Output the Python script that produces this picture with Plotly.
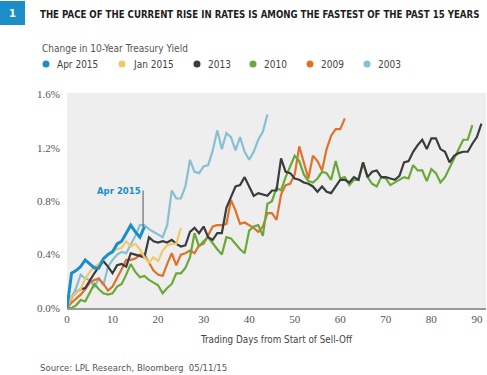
import plotly.graph_objects as go

# ---------------- data (change in 10-year Treasury yield, %) ----------------
apr2015 = [0.00, 0.26, 0.28, 0.31, 0.36, 0.33, 0.30, 0.30, 0.37, 0.40, 0.42, 0.48,
           0.50, 0.56, 0.62, 0.57, 0.53, 0.61]
jan2015 = [0.00, 0.08, 0.12, 0.14, 0.22, 0.27, 0.31, 0.33, 0.37, 0.40, 0.43, 0.44,
           0.45, 0.50, 0.46, 0.48, 0.44, 0.38, 0.34, 0.38, 0.35, 0.43, 0.47, 0.48,
           0.48, 0.60]
y2013 = [0.00, 0.08, 0.12, 0.14, 0.15, 0.21, 0.26, 0.31, 0.35, 0.31, 0.26, 0.32,
         0.33, 0.31, 0.41, 0.40, 0.39, 0.38, 0.53, 0.50, 0.49, 0.50, 0.49, 0.51,
         0.48, 0.46, 0.47, 0.57, 0.60, 0.56, 0.61, 0.53, 0.51, 0.56, 0.56, 0.75,
         0.83, 0.91, 0.92, 0.98, 0.91, 0.84, 0.86, 0.85, 0.84, 0.88, 0.88, 1.12,
         1.02, 1.01, 0.97, 0.96, 0.94, 0.93, 0.91, 0.87, 0.91, 0.87, 0.86, 0.91,
         0.96, 0.96, 0.94, 0.98, 0.96, 1.09, 0.98, 1.02, 1.03, 0.98, 0.98, 0.97,
         0.96, 0.99, 1.09, 1.10, 1.17, 1.22, 1.26, 1.19, 1.27, 1.27, 1.19, 1.17,
         1.09, 1.14, 1.16, 1.17, 1.17, 1.23, 1.28, 1.38]
y2010 = [0.00, 0.00, 0.02, 0.06, 0.05, 0.11, 0.18, 0.14, 0.11, 0.10, 0.11, 0.16,
         0.18, 0.25, 0.33, 0.27, 0.23, 0.24, 0.21, 0.19, 0.17, 0.11, 0.15, 0.18,
         0.26, 0.26, 0.30, 0.38, 0.56, 0.46, 0.50, 0.53, 0.48, 0.44, 0.40, 0.53,
         0.52, 0.48, 0.44, 0.41, 0.58, 0.61, 0.62, 0.54, 0.78, 0.80, 0.90, 0.88,
         0.98, 1.06, 1.14, 1.10, 1.00, 0.95, 0.94, 0.97, 1.02, 1.01, 0.96, 1.10,
         0.97, 0.98, 0.92, 0.96, 0.96, 1.09, 0.98, 0.93, 0.91, 0.98, 0.97, 0.92,
         0.94, 0.96, 0.98, 0.97, 1.07, 1.03, 1.03, 0.95, 1.04, 1.01, 0.94, 0.98,
         1.05, 1.12, 1.18, 1.26, 1.26, 1.37]
y2009 = [0.00, 0.04, 0.07, 0.10, 0.14, 0.19, 0.21, 0.22, 0.18, 0.13, 0.16, 0.22,
         0.29, 0.36, 0.36, 0.37, 0.40, 0.40, 0.34, 0.28, 0.25, 0.24, 0.33, 0.41,
         0.32, 0.40, 0.41, 0.43, 0.41, 0.47, 0.48, 0.55, 0.61, 0.62, 0.62, 0.63,
         0.81, 0.73, 0.63, 0.64, 0.62, 0.60, 0.57, 0.61, 0.71, 0.71, 0.66, 0.85,
         0.92, 0.93, 1.00, 1.21, 1.09, 0.97, 1.14, 1.10, 1.03, 1.19, 1.29, 1.34,
         1.34, 1.42]
y2003 = [0.00, 0.08, 0.15, 0.25, 0.22, 0.21, 0.16, 0.22, 0.17, 0.31, 0.36, 0.40,
         0.42, 0.41, 0.47, 0.54, 0.62, 0.62, 0.59, 0.57, 0.55, 0.53, 0.62, 0.88,
         0.82, 0.82, 0.91, 1.11, 1.02, 1.01, 1.06, 1.07, 1.18, 1.33, 1.19, 1.31,
         1.28, 1.18, 1.28, 1.17, 1.11, 1.17, 1.26, 1.32, 1.45]

series_names = ["Apr 2015", "Jan 2015", "2013", "2010", "2009", "2003"]
series_values = [apr2015, jan2015, y2013, y2010, y2009, y2003]
series_colors = ["#1b8ec7", "#f2c86c", "#3b3b3b", "#6aa83a", "#e0712b", "#86c0d2"]
series_widths = [3, 2.2, 2.2, 2.2, 2.2, 2.2]

x_ticks = [0, 10, 20, 30, 40, 50, 60, 70, 80, 90]
y_ticks = [0.0, 0.4, 0.8, 1.2, 1.6]
y_tick_labels = ["0.0%", "0.4%", "0.8%", "1.2%", "1.6%"]

title_text = "THE PACE OF THE CURRENT RISE IN RATES IS AMONG THE FASTEST OF THE PAST 15 YEARS"
subtitle_text = "Change in 10-Year Treasury Yield"
x_title = "Trading Days from Start of Sell-Off"
source_text = "Source: LPL Research, Bloomberg&nbsp;&nbsp;05/11/15"

COND = "DejaVu Sans Condensed, Roboto, sans-serif"
SERIF = "Liberation Serif, DejaVu Serif, serif"

fig = go.Figure()

order = [5, 4, 3, 2, 1, 0]
for i in order:
    vals = series_values[i]
    fig.add_trace(go.Scatter(
        x=list(range(len(vals))), y=vals, mode="lines", name=series_names[i],
        line=dict(color=series_colors[i], width=series_widths[i]),
        showlegend=False, hoverinfo="skip"))

W, H = 487, 375
ml, mr, mt, mb = 67, 1, 93, 67
pw, ph = W - ml - mr, H - mt - mb


def px(xp):
    return (xp - ml) / pw


def py(yp):
    return (H - mb - yp) / ph


annotations = []
shapes = []

shapes.append(dict(type="rect", xref="paper", yref="paper",
                   x0=px(0), x1=px(25), y0=py(25), y1=py(1),
                   fillcolor="#1b8ec7", line=dict(width=0)))
annotations.append(dict(text="<b>1</b>", xref="paper", yref="paper",
                        x=px(12.5), y=py(13), xanchor="center", yanchor="middle",
                        showarrow=False,
                        font=dict(family=COND, size=11, color="white")))
annotations.append(dict(text="<b>" + title_text + "</b>", xref="paper", yref="paper",
                        x=px(38), y=py(14), xanchor="left", yanchor="middle",
                        showarrow=False,
                        font=dict(family=COND, size=9.6, color="#1e1e1e")))
annotations.append(dict(text=subtitle_text, xref="paper", yref="paper",
                        x=px(40), y=py(48), xanchor="left", yanchor="middle",
                        showarrow=False,
                        font=dict(family=COND, size=10, color="#555555")))

marker_x = [46, 122, 197, 253, 310, 367]
for name, col, mx in zip(series_names, series_colors, marker_x):
    shapes.append(dict(type="circle", xref="paper", yref="paper",
                       xsizemode="pixel", ysizemode="pixel",
                       xanchor=px(mx), yanchor=py(64),
                       x0=-3.5, x1=3.5, y0=-3.5, y1=3.5,
                       fillcolor=col, line=dict(width=0)))
    annotations.append(dict(text=name, xref="paper", yref="paper",
                            x=px(mx + 9), y=py(64), xanchor="left", yanchor="middle",
                            showarrow=False,
                            font=dict(family=COND, size=10, color="#444444")))

annotations.append(dict(text=x_title, xref="paper", yref="paper",
                        x=px(276), y=py(339), xanchor="center", yanchor="middle",
                        showarrow=False,
                        font=dict(family=COND, size=9.8, color="#444444")))
annotations.append(dict(text=source_text, xref="paper", yref="paper",
                        x=px(38), y=py(367), xanchor="left", yanchor="middle",
                        showarrow=False,
                        font=dict(family=COND, size=9.5, color="#555555")))

last = len(apr2015) - 1
annotations.append(dict(text="<b>Apr 2015</b>", x=last - 0.3, y=apr2015[last],
                        xref="x", yref="y", showarrow=True, arrowhead=0,
                        arrowwidth=1, arrowcolor="#555555", ax=0, ay=-36,
                        xanchor="right", yanchor="middle",
                        font=dict(family=COND, size=9.5, color="#1b8ec7")))

fig.update_layout(
    width=W, height=H,
    margin=dict(l=ml, r=mr, t=mt, b=mb),
    paper_bgcolor="white", plot_bgcolor="#eeeeee",
    shapes=shapes, annotations=annotations,
    showlegend=False,
    xaxis=dict(range=[0, 92], tickvals=x_ticks, showgrid=False, zeroline=False,
               showline=True, linecolor="#9a9a9a", linewidth=1.5, ticks="",
               ticklabelstandoff=0,
               tickfont=dict(family=SERIF, size=11, color="#555555"),
               fixedrange=True),
    yaxis=dict(range=[0, 1.61], tickvals=y_ticks, ticktext=y_tick_labels,
               showgrid=False, zeroline=False, showline=False, ticks="",
               ticklabelstandoff=6,
               tickfont=dict(family=SERIF, size=11, color="#555555"),
               fixedrange=True),
)

fig.write_html("out.html", config={"displayModeBar": False},
               post_script="document.body.style.margin='0';")
